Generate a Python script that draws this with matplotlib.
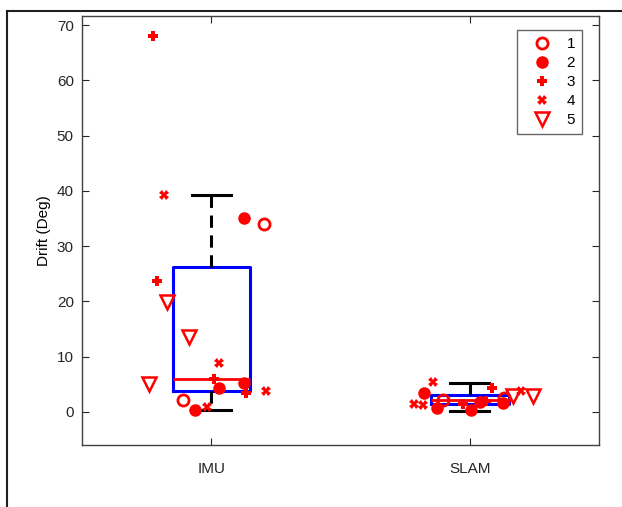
import matplotlib
matplotlib.use("Agg")
import matplotlib.pyplot as plt
from matplotlib.lines import Line2D

plt.rcParams["font.family"] = ["Liberation Sans", "DejaVu Sans"]
plt.rcParams["font.size"] = 11

GROUPS = ["IMU", "SLAM"]
GROUP_POS = [1, 2]

# box summary per group: lower whisker, q1, median, q3, upper whisker
WHIS_LO = [0.4, 0.2]
Q1 = [3.8, 1.4]
MEDIAN = [6.0, 2.1]
Q3 = [26.2, 3.1]
WHIS_HI = [39.2, 5.3]

# individual trials, jittered x position and drift per subject
S1_X = [0.892, 1.205, 1.896, 2.131]
S1_Y = [2.2, 34.0, 2.2, 2.5]
S2_X = [1.127, 1.031, 1.127, 0.938, 1.822, 1.873, 2.004, 2.039, 2.127]
S2_Y = [35.1, 4.4, 5.2, 0.4, 3.4, 0.7, 0.4, 1.8, 1.6]
S3_X = [0.776, 0.788, 1.012, 1.135, 1.973, 2.062, 2.085]
S3_Y = [68.0, 23.7, 6.0, 3.5, 1.4, 1.9, 4.3]
S4_X = [0.815, 1.031, 1.212, 0.985, 1.857, 1.784, 1.819, 2.197]
S4_Y = [39.2, 8.9, 3.8, 0.9, 5.4, 1.4, 1.3, 3.8]
S5_X = [0.830, 0.915, 0.757, 2.166, 2.243]
S5_Y = [19.9, 13.6, 5.1, 2.9, 2.9]

fig = plt.figure(figsize=(6.22, 5.07), dpi=100)
ax = fig.add_axes([0.132, 0.122, 0.831, 0.846])

stats = [
    {"med": MEDIAN[i], "q1": Q1[i], "q3": Q3[i], "whislo": WHIS_LO[i],
     "whishi": WHIS_HI[i], "fliers": [], "label": GROUPS[i]}
    for i in range(len(GROUPS))
]
ax.bxp(
    stats,
    positions=GROUP_POS,
    widths=0.3,
    capwidths=0.15,
    showfliers=False,
    boxprops=dict(color="#0000ff", linewidth=2.2),
    whiskerprops=dict(color="black", linewidth=2.2, linestyle=(0, (4, 2.5))),
    capprops=dict(color="black", linewidth=2.2),
    medianprops=dict(color="#ff0000", linewidth=2.0),
)

red = "#ff0000"
ax.plot(S1_X, S1_Y, "o", ls="none", mfc="none", mec=red, mew=2, ms=8, label="1")
ax.plot(S2_X, S2_Y, "o", ls="none", mfc=red, mec=red, ms=8, label="2")
ax.plot(S3_X, S3_Y, "P", ls="none", color=red, ms=7, mew=0, label="3")
ax.plot(S4_X, S4_Y, "X", ls="none", color=red, ms=7, mew=0, label="4")
ax.plot(S5_X, S5_Y, "v", ls="none", mfc="none", mec=red, mew=1.8, ms=10, label="5")

ax.set_xlim(0.5, 2.5)
ax.set_ylim(-6.0, 71.6)
ax.set_xticks(GROUP_POS)
ax.set_xticklabels(GROUPS)
ax.set_yticks(range(0, 80, 10))
ax.set_ylabel("Drift (Deg)")
ax.tick_params(direction="in", top=True, right=True, length=5, width=0.8,
               colors="#262626", pad=6)
ax.xaxis.set_tick_params(pad=12)
for sp in ax.spines.values():
    sp.set_color("#404040")
    sp.set_linewidth(1.0)

leg = ax.legend(loc="upper right", bbox_to_anchor=(0.967, 0.967), frameon=True,
                fancybox=False, edgecolor="#404040", borderaxespad=0,
                handletextpad=0.4, labelspacing=0.33, handlelength=2.4,
                markerfirst=True, borderpad=0.45)
leg.get_frame().set_linewidth(1.0)

# thin outer frame lines along top and left
fig.add_artist(Line2D([7 / 622, 1.0], [1 - 11 / 507, 1 - 11 / 507],
                      transform=fig.transFigure, color="#202020", lw=1.5))
fig.add_artist(Line2D([7 / 622, 7 / 622], [0, 1 - 11 / 507],
                      transform=fig.transFigure, color="#202020", lw=1.5))

fig.savefig("out.png", dpi=100)
